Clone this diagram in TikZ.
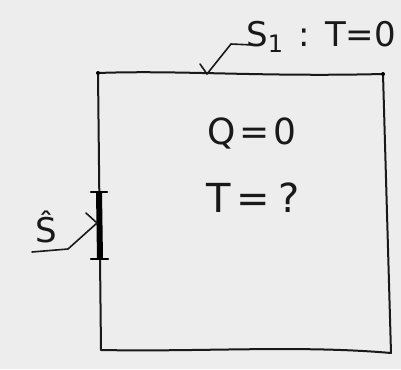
\documentclass[tikz,border=0pt]{standalone}
\usepackage{fontspec}
\setmainfont{DejaVu Sans}
\begin{document}
\begin{tikzpicture}[x=1pt,y=-1pt,
  ink/.style={draw=black!90,line width=2pt,line join=round,line cap=round},
  lead/.style={draw=black!90,line width=1.6pt,line join=round,line cap=round},
  lbl/.style={inner sep=0pt,text=black!90,font=\fontsize{36}{38}\selectfont}]
\fill[black!7] (0,0) rectangle (401,369);
\useasboundingbox (0,0) rectangle (401,369);
% box
\coordinate (tl) at (98,73);
\coordinate (tr) at (383,74);
\coordinate (br) at (391,353);
\coordinate (bl) at (101,350);
\draw[ink] (tl) .. controls (180,70) and (260,77) .. (tr)
  -- (br) .. controls (300,345) and (200,352) .. (bl) -- cycle;
\fill (tl) circle (2pt);
\fill (tr) circle (2pt);
% bold segment S hat
\coordinate (sa) at (99,192);
\coordinate (sb) at (100,259);
\draw[draw=black,line width=6pt] (sa) -- (sb);
\draw[draw=black,line width=2.5pt,line cap=round] (91,192) -- (107,192);
\draw[draw=black,line width=2.5pt,line cap=round] (91,259) -- (108,259);
% texts
\node[lbl] (q) at (252,133) {Q\hspace{0.1em}=\hspace{0.1em}0};
\node[lbl,font=\fontsize{40}{42}\selectfont] (t) at (253,198) {T\hspace{0.15em}=\hspace{0.2em}?};
\node[lbl,anchor=base west,font=\fontsize{34}{36}\selectfont] (s1) at (246,46) {S\raisebox{-0.2em}{\fontsize{24}{26}\selectfont 1}\hspace{0.45em}:\hspace{0.45em}T=0};
\node[lbl,anchor=base,font=\fontsize{34}{36}\selectfont] (sh) at (46,242) {Ŝ};
% leaders
\coordinate (a1) at (253,45);
\coordinate (a2) at (231,44);
\coordinate (a3) at (207,74);
\coordinate (a4) at (200,64);
\draw[lead] (a1) -- (a2) -- (a3) -- (a4);
\coordinate (b1) at (32,252);
\coordinate (b2) at (68,249);
\coordinate (b3) at (97,223);
\coordinate (b4) at (86,213);
\draw[lead] (b1) -- (b2) -- (b3) -- (b4);
\end{tikzpicture}
\end{document}
